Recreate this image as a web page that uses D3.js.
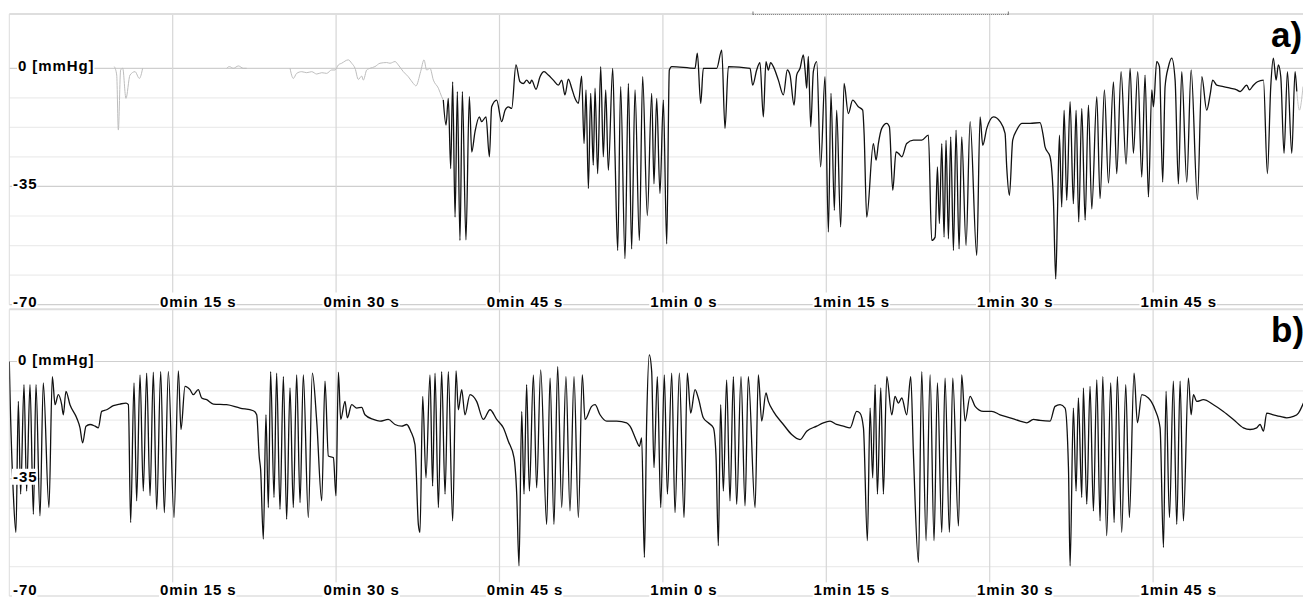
<!DOCTYPE html>
<html><head><meta charset="utf-8">
<script src="https://cdn.jsdelivr.net/npm/d3@7"></script>
<style>html,body{margin:0;padding:0;background:#fff;overflow:hidden;} svg{display:block;}</style>
</head><body>
<svg id="chart" width="1303" height="599"></svg>
<script>
// ---------------- data ----------------
const tickSeconds = [15, 30, 45, 60, 75, 90, 105];
const tickLabels = ["0min 15 s", "0min 30 s", "0min 45 s", "1min 0 s", "1min 15 s", "1min 30 s", "1min 45 s"];
const yTickValues = [0, -35, -70];
const yTickLabels = ["0 [mmHg]", "-35", "-70"];
const gridValues = [0, -8.75, -17.5, -26.25, -35, -43.75, -52.5, -61.25, -70];
const panelNames = ["a)", "b)"];
const timeDomain = [0, 118.76];
const windowRange = [68.27, 91.71];

// panel a – grey (inactive) part before the recording, [s, mmHg]; null = gap
const traceA_grayStart = [[9.64,0.5],[9.86,-2.0],[10.01,-18.3],[10.22,-0.5],[10.41,0.0],[10.71,-8.9],[11.08,-2.0],[11.54,-1.0],[11.94,-3.0],[12.24,0],
 [12.3,null],[19.95,0],[20.20,0.5],[20.57,0],[21.03,0.7],[21.48,0],[21.79,0],[21.9,null],
 [25.77,0],[26.07,-3.0],[26.38,-1.5],[26.84,-1.0],[27.30,-1.3],[27.76,-1.0],[28.22,-1.7],[28.68,-1.3],[29.13,-1.5],[29.59,-0.5],[29.90,-0.5],
 [30.21,1.0],[30.51,1.5],[31.12,2.5],[31.43,1.5],[31.74,0],[32.04,-3.3],[32.35,-2.3],[32.50,-3.5],[32.81,-0.5],[33.11,0],[33.57,0.5],
 [34.03,1.5],[34.64,1.7],[34.95,1.5],[35.41,2.0],[35.71,1.0],[36.17,-1.0],[36.63,-2.5],[37.09,-4.5],[37.33,-5.2],[37.76,-1.0],
 [38.07,2.5],[38.31,-0.5],[38.62,0],[38.93,-3.5],[39.39,-5.9],[39.69,-8.4],[39.84,-9.4]];

// panel a – recorded signal
const traceA = [[39.84,-9.4],[40.09,-16.8],[40.30,-8.9],[40.52,-29.7],[40.70,-4.0],[40.92,-44.1],[41.13,-6.9],[41.37,-51.0],[41.59,-6.9],[41.92,-50.8],
 [42.23,-8.4],[42.45,-24.8],[42.75,-18.8],[43.15,-14.4],[43.36,-15.8],[43.76,-14.4],[44.07,-26.2],[44.28,-11.4],[44.74,-9.4],[45.20,-15.8],
 [45.51,-12.4],[45.81,-11.4],[46.12,-11.9],[46.51,1.0],[46.88,-4.0],[47.19,-4.5],[47.49,-3.5],[47.80,-4.5],[47.95,-3.5],[48.35,-6.2],
 [48.72,-2.5],[49.09,-1.0],[49.48,-2.0],[49.94,-3.5],[50.40,-5.0],[50.71,-3.5],[51.01,-7.9],[51.32,-3.2],[51.63,-5.9],[51.93,-8.9],
 [52.24,-10.4],[52.54,-2.3],[52.76,-22.3],[52.94,-6.4],[53.16,-35.6],[53.37,-7.4],[53.61,-28.7],[53.77,-5.9],[54.01,-31.2],[54.29,0.5],
 [54.53,-26.2],[54.75,-6.4],[54.99,-30.2],[55.39,0],[55.60,-25.2],[55.85,-54.0],[56.12,-5.4],[56.52,-56.4],[56.83,-4.5],[57.13,-53.5],
 [57.44,-6.4],[57.84,-51.0],[58.14,-2.5],[58.57,-43.6],[58.97,-7.4],[59.18,-34.2],[59.43,-8.9],[59.73,-37.1],[60.04,-9.4],[60.35,-52.0],
 [60.59,-0.5],[60.81,0.5],[62.95,0],[63.16,4.5],[63.47,-10.4],[63.71,0],[64.94,0],[65.40,5.4],[65.70,-17.8],[66.01,0.5],
 [68.00,0],[68.24,-5.0],[68.61,-0.5],[68.91,1.7],[69.22,-14.4],[69.46,2.0],[69.68,-0.5],[69.89,1.7],[70.14,0.5],[70.60,-3.5],
 [71.06,-7.9],[71.42,-0.5],[71.67,-2.0],[72.04,-10.9],[72.28,-2.0],[72.59,0],[72.89,4.0],[73.05,-0.5],[73.20,-5.9],[73.35,3.5],
 [73.57,-17.3],[73.81,-1.0],[74.12,2.0],[74.48,-29.2],[74.88,-2.5],[75.19,-48.5],[75.43,-7.4],[75.74,-42.1],[75.95,-12.4],[76.32,-47.0],
 [76.63,-4.5],[77.02,-13.4],[77.42,-9.4],[77.94,-11.4],[78.34,-12.4],[78.47,-19.3],[78.71,-44.1],[79.32,-22.3],[79.57,-27.2],[79.78,-22.3],
 [80.09,-17.8],[80.55,-16.3],[80.79,-17.3],[81.10,-36.1],[81.40,-24.8],[81.62,-25.2],[81.93,-26.2],[82.38,-22.3],[83.00,-21.3],[83.76,-21.3],
 [84.37,-19.8],[84.68,-51.0],[84.99,-50.0],[85.20,-29.2],[85.38,-46.0],[85.60,-22.3],[85.81,-50.0],[85.99,-21.3],[86.21,-50.5],[86.42,-20.3],
 [86.67,-54.0],[86.91,-18.3],[87.19,-53.5],[87.43,-20.3],[87.83,-52.5],[88.20,-15.8],[88.81,-55.4],[89.12,-14.4],[89.36,-22.8],[89.73,-17.8],
 [90.34,-14.4],[90.95,-15.8],[91.41,-19.3],[91.56,-29.2],[91.81,-37.6],[92.11,-21.3],[92.48,-18.3],[92.94,-16.3],[93.71,-16.3],[94.62,-16.1],
 [94.93,-20.3],[95.08,-23.3],[95.54,-26.2],[95.85,-39.1],[96.06,-62.4],[96.22,-43.1],[96.40,-19.8],[96.61,-41.1],[96.83,-12.4],[97.07,-39.1],
 [97.38,-9.9],[97.68,-40.1],[97.93,-12.4],[98.17,-45.5],[98.45,-11.9],[98.76,-45.0],[99.06,-10.9],[99.37,-41.6],[99.83,-8.4],[100.13,-38.6],
 [100.53,-6.4],[100.90,-34.0],[101.36,-4.0],[101.66,-31.2],[102.06,-1.0],[102.52,-28.4],[102.89,0],[103.19,-25.2],[103.59,-1.0],[103.96,-32.2],
 [104.26,-2.0],[104.57,-38.1],[104.88,-6.4],[105.03,-11.4],[105.33,2.0],[105.58,0.5],[105.88,-33.7],[106.10,-5.4],[106.41,0.5],[106.71,3.0],
 [107.02,-3.5],[107.32,-34.2],[107.63,-1.0],[108.09,-33.7],[108.49,-0.5],[109.07,-38.9],[109.47,-2.5],[109.92,-12.4],[110.23,-7.9],[110.47,-3.5],
 [110.84,-5.0],[111.45,-5.4],[112.07,-5.9],[112.68,-6.4],[112.98,-6.9],[113.60,-5.0],[113.84,-6.4],[114.21,-5.0],[114.58,-4.0],[115.13,-3.5],
 [115.49,-31.2],[115.80,-5.4],[116.04,3.0],[116.29,-3.5],[116.50,1.0],[116.72,-2.5],[117.02,-25.2],[117.33,-1.0],[117.73,-25.2],[118.03,-1.0],[118.19,-6.9]];

// panel a – grey part after the recording
const traceA_grayEnd = [[118.19,-6.9],[118.43,-12.4],[118.76,-5.4]];

// panel b – recorded signal
const traceB = [[0,0],[0.06,-8.9],[0.37,-39.6],[0.61,-51.0],[0.83,-11.9],[1.04,-39.6],[1.35,-6.9],[1.59,-38.7],[1.90,-6.9],[2.21,-45.6],
 [2.45,-6.9],[2.82,-46.1],[3.12,-6.4],[3.64,-43.6],[3.95,-4.5],[4.20,-12.9],[4.50,-9.9],[4.81,-12.9],[4.96,-15.9],[5.20,-8.9],
 [5.57,-12.9],[6.18,-16.8],[6.49,-19.8],[6.73,-24.3],[7.04,-19.3],[7.41,-18.8],[7.87,-19.3],[8.17,-19.8],[8.48,-14.9],[8.94,-14.4],
 [9.55,-13.2],[10.16,-12.7],[10.71,-12.4],[10.93,-12.9],[11.14,-48.1],[11.45,-6.4],[11.69,-41.6],[12.00,-4.0],[12.30,-38.7],[12.61,-3.5],
 [12.92,-40.1],[13.22,-3.2],[13.53,-44.1],[13.90,-3.0],[14.23,-45.1],[14.60,-3.0],[15.12,-46.6],[15.52,-2.8],[15.76,-20.3],[16.13,-7.4],
 [16.59,-8.4],[16.89,-9.9],[17.35,-8.4],[17.66,-10.9],[18.12,-11.4],[18.73,-12.7],[19.95,-12.9],[21.18,-13.9],[22.40,-14.7],[22.71,-15.9],
 [22.95,-28.7],[23.07,-32.2],[23.32,-53.0],[23.56,-15.9],[23.78,-43.6],[23.99,-3.0],[24.30,-40.6],[24.54,-3.5],[24.85,-44.1],[25.16,-4.5],
 [25.46,-47.1],[25.77,-7.9],[26.07,-43.6],[26.38,-4.0],[26.69,-42.1],[26.99,-4.0],[27.45,-46.6],[27.82,-3.5],[28.22,-17.8],[28.68,-41.6],
 [28.98,-5.9],[29.29,-28.2],[29.75,-28.7],[29.99,-40.1],[30.21,-3.2],[30.42,-17.3],[30.82,-11.9],[31.03,-16.8],[31.43,-12.9],[31.89,-13.9],
 [32.35,-13.7],[32.65,-15.9],[33.42,-17.3],[34.03,-17.8],[34.79,-17.3],[35.41,-18.8],[36.02,-19.3],[36.48,-18.8],[36.85,-20.8],[37.24,-24.8],
 [37.55,-48.6],[37.70,-51.0],[37.95,-10.4],[38.25,-34.7],[38.62,-4.0],[38.86,-37.2],[39.08,-3.5],[39.39,-43.6],[39.69,-3.0],[40.00,-39.6],
 [40.30,-3.0],[40.70,-47.6],[41.01,-2.8],[41.22,-14.4],[41.53,-8.4],[41.83,-15.9],[42.29,-9.9],[42.90,-11.9],[43.52,-17.3],[44.13,-14.4],
 [44.74,-17.3],[45.35,-19.8],[45.81,-23.8],[46.33,-28.7],[46.58,-39.6],[46.79,-61.0],[47.04,-14.9],[47.25,-39.6],[47.49,-6.9],[47.74,-38.7],
 [48.11,-4.0],[48.41,-37.7],[48.78,-2.5],[49.33,-48.6],[49.64,-5.0],[50.00,-48.6],[50.34,-1.5],[50.71,-43.6],[51.10,-4.5],[51.47,-44.6],
 [51.84,-4.5],[52.24,-46.6],[52.60,-4.0],[52.85,-17.3],[53.46,-13.4],[53.77,-12.9],[54.23,-15.9],[54.84,-17.8],[55.76,-17.8],[56.67,-18.3],
 [56.98,-19.3],[57.59,-23.8],[57.84,-25.3],[58.05,-22.8],[58.30,-58.5],[58.51,-17.8],[58.75,2.0],[58.97,-3.0],[59.18,-31.7],[59.49,-4.5],
 [59.80,-43.6],[60.13,-4.0],[60.41,-39.6],[60.81,-3.5],[61.11,-45.1],[61.51,-3.5],[61.94,-46.6],[62.24,-3.5],[62.55,-15.4],[62.95,-8.4],
 [63.25,-10.9],[63.71,-16.8],[64.17,-18.3],[64.63,-19.8],[64.87,-27.8],[65.09,-55.0],[65.30,-12.9],[65.55,-38.7],[65.85,-5.5],[66.16,-41.6],
 [66.47,-4.5],[66.77,-42.6],[67.17,-4.5],[67.54,-43.1],[67.84,-4.5],[68.46,-43.6],[68.76,-4.0],[69.07,-17.8],[69.46,-9.4],[69.68,-11.9],
 [70.14,-14.9],[71.06,-18.8],[71.82,-21.8],[72.59,-23.3],[73.20,-20.8],[74.12,-19.3],[74.73,-18.3],[75.34,-17.8],[75.95,-18.8],[76.56,-19.3],
 [77.18,-19.8],[77.79,-14.9],[78.09,-15.4],[78.41,-19.8],[78.77,-53.5],[79.02,-13.9],[79.26,-34.7],[79.48,-6.9],[79.69,-39.6],[80.00,-7.9],
 [80.24,-39.6],[80.55,-4.5],[81.01,-15.9],[81.31,-10.4],[81.62,-12.4],[81.93,-10.9],[82.38,-15.9],[82.75,-4.5],[83.00,-27.8],[83.46,-60.0],
 [83.76,-3.0],[84.16,-53.5],[84.53,-4.0],[84.89,-53.5],[85.20,-6.4],[85.60,-51.0],[85.90,-5.0],[86.30,-51.0],[86.61,-5.0],[87.13,-49.1],
 [87.43,-4.0],[87.74,-17.8],[88.20,-10.4],[88.66,-13.4],[89.42,-14.9],[90.19,-14.9],[90.95,-15.9],[91.87,-16.8],[92.79,-17.8],[93.40,-18.3],
 [94.01,-17.3],[94.62,-17.6],[95.54,-17.8],[96.00,-13.4],[96.46,-12.9],[96.92,-13.9],[97.23,-31.7],[97.38,-61.0],[97.68,-13.9],[97.93,-38.7],
 [98.14,-10.9],[98.45,-40.6],[98.60,-7.9],[98.91,-42.6],[99.21,-7.4],[99.52,-44.6],[99.83,-5.5],[100.13,-47.6],[100.38,-4.5],[100.74,-52.0],
 [101.11,-6.4],[101.42,-48.1],[101.72,-4.5],[102.12,-51.0],[102.49,-6.9],[102.82,-46.6],[103.25,-3.5],[103.56,-18.3],[103.96,-9.9],[104.57,-10.9],
 [105.18,-14.4],[105.64,-19.8],[105.95,-55.5],[106.19,-8.9],[106.50,-46.6],[106.86,-5.9],[107.17,-48.6],[107.48,-5.9],[107.78,-47.6],[108.24,-5.0],
 [108.49,-15.9],[108.70,-9.9],[109.01,-11.9],[109.62,-11.4],[110.54,-12.9],[111.45,-14.9],[112.37,-17.3],[113.29,-19.8],[113.90,-20.3],[114.51,-19.8],
 [114.82,-18.8],[115.13,-20.8],[115.43,-15.4],[116.04,-15.9],[116.66,-16.4],[117.27,-16.8],[117.88,-16.4],[118.34,-15.4],[118.80,-12.4]];

// ---------------- drawing ----------------
const W = 1303;
const svg = d3.select("#chart");
const x = d3.scaleLinear().domain(timeDomain).range([9.3, W]);
const FONT = "'Liberation Sans', Arial, Helvetica, sans-serif";

const panels = [
  { name: panelNames[0], top: 14, y: d3.scaleLinear().domain([-70, 0]).range([304.6, 68.3]), labelDy: 2.6,
    series: [{ data: traceA_grayStart, color: "#bdbdbd", w: 1 },
             { data: traceA, color: "#111", w: 1.3 },
             { data: traceA_grayEnd, color: "#c4c4c4", w: 1 }] },
  { name: panelNames[1], top: 309.3, y: d3.scaleLinear().domain([-70, 0]).range([596, 361.5]), labelDy: -0.6,
    series: [{ data: traceB, color: "#111", w: 1.3 }] }
];

function labelWithBg(g, txt, px, py, size) {
  const grp = g.append("g");
  const rect = grp.append("rect").attr("fill", "#fff");
  const t = grp.append("text").attr("x", px).attr("y", py)
    .attr("font-family", FONT).attr("font-weight", "bold").attr("font-size", size)
    .attr("letter-spacing", "0.9px")
    .attr("fill", "#000").text(txt);
  const bb = t.node().getBBox();
  rect.attr("x", bb.x - 1).attr("y", bb.y + 1).attr("width", bb.width + 1).attr("height", bb.height - 1);
  return grp;
}

panels.forEach((p, i) => {
  const g = svg.append("g");
  const y = p.y;
  const bottom = y(-70);
  const clipId = "clip" + i;
  svg.append("clipPath").attr("id", clipId).append("rect")
    .attr("x", x(0)).attr("y", p.top).attr("width", W - x(0)).attr("height", bottom - p.top + 1);

  // horizontal grid
  g.selectAll(".hg").data(gridValues).join("line")
    .attr("x1", x(0)).attr("x2", W)
    .attr("y1", d => y(d)).attr("y2", d => y(d))
    .attr("stroke", d => yTickValues.includes(d) ? "#cfcfcf" : "#ececec")
    .attr("stroke-width", 1.2);
  // vertical grid
  g.selectAll(".vg").data(tickSeconds).join("line")
    .attr("x1", d => x(d)).attr("x2", d => x(d))
    .attr("y1", p.top).attr("y2", bottom - 12)
    .attr("stroke", "#d6d6d6").attr("stroke-width", 1.2);
  // top and left border
  g.append("line").attr("x1", x(0)).attr("x2", W).attr("y1", p.top).attr("y2", p.top)
    .attr("stroke", "#dedede").attr("stroke-width", 2);
  g.append("line").attr("x1", x(0)).attr("x2", x(0)).attr("y1", p.top).attr("y2", bottom)
    .attr("stroke", "#dcdcdc").attr("stroke-width", 1);

  if (i === 0) {
    // window bracket on the top border
    const wx0 = x(windowRange[0]), wx1 = x(windowRange[1]);
    g.append("line").attr("x1", wx0).attr("x2", wx1).attr("y1", p.top + 0.5).attr("y2", p.top + 0.5)
      .attr("stroke", "#8a8a8a").attr("stroke-width", 1.2).attr("stroke-dasharray", "1,1");
    g.append("path").attr("d", `M${wx0},${p.top - 2.5}V${p.top + 1}M${wx1},${p.top - 2.5}V${p.top + 1}`)
      .attr("stroke", "#777").attr("stroke-width", 1).attr("fill", "none");
  }

  // traces
  const line = d3.line().defined(d => d[1] !== null).x(d => x(d[0])).y(d => y(d[1]))
    .curve(d3.curveMonotoneX);
  const tg = g.append("g").attr("clip-path", `url(#${clipId})`);
  p.series.forEach(s => {
    tg.append("path").datum(s.data).attr("d", line)
      .attr("fill", "none").attr("stroke", s.color).attr("stroke-width", s.w)
      .attr("stroke-linejoin", "round");
  });

  // y labels
  yTickValues.forEach((v, k) => {
    const px = k === 0 ? 18 : 13;
    labelWithBg(g, yTickLabels[k], px, y(v) + (k === 2 ? p.labelDy : 3), 15);
  });
  // x labels
  tickSeconds.forEach((s, k) => {
    labelWithBg(g, tickLabels[k], x(s) - 12.7, bottom + p.labelDy, 15);
  });
  // panel letter
  g.append("text").attr("x", 1271).attr("y", p.top + 33)
    .attr("font-family", FONT).attr("font-weight", "bold").attr("font-size", 35)
    .attr("fill", "#000").text(p.name);
});
</script>
</body></html>
